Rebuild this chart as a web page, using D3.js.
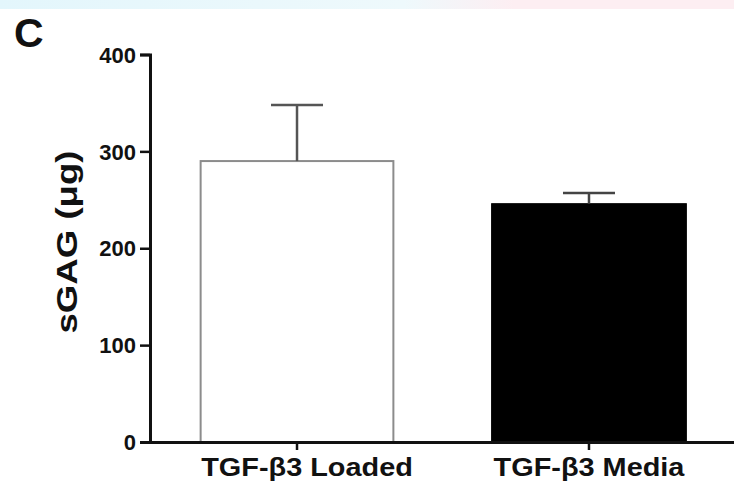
<!DOCTYPE html>
<html>
<head>
<meta charset="utf-8">
<script src="https://cdn.jsdelivr.net/npm/d3@7"></script>
<style>
  html, body { margin: 0; padding: 0; background: #fff; }
  svg { display: block; font-family: "Liberation Sans", Arial, Helvetica, sans-serif; }
</style>
</head>
<body>
<script>
// ---- data ----
const categories = ["TGF-\u03b23 Loaded", "TGF-\u03b23 Media"];
const means = [290, 246];
const errors = [58, 11];
const yTicks = [0, 100, 200, 300, 400];
const yLabel = "sGAG (\u03bcg)";
const panelLabel = "C";

const W = 734, H = 493;
const svg = d3.select("body").append("svg").attr("width", W).attr("height", H);

// faint coloured band at the top (scan artefact)
const defs = svg.append("defs");
const grad = defs.append("linearGradient").attr("id", "topband");
grad.append("stop").attr("offset", "0%").attr("stop-color", "#e3f6fc");
grad.append("stop").attr("offset", "55%").attr("stop-color", "#eef9fc");
grad.append("stop").attr("offset", "70%").attr("stop-color", "#fdeef2");
grad.append("stop").attr("offset", "100%").attr("stop-color", "#fdeef2");
svg.append("rect").attr("x", 0).attr("y", 0).attr("width", W).attr("height", 9).attr("fill", "url(#topband)");

const x0 = 150, yBase = 442;
const x = d3.scaleBand().domain(categories).range([x0, 736]).paddingInner(0.333).paddingOuter(0.17);
const y = d3.scaleLinear().domain([0, 400]).range([yBase, 54.5]);

// bars
const bars = svg.append("g");
categories.forEach((c, i) => {
  const filled = i === 1;
  bars.append("rect")
    .attr("x", x(c) + (filled ? 0 : 1))
    .attr("y", y(means[i]))
    .attr("width", x.bandwidth() - (filled ? 0 : 2))
    .attr("height", yBase - y(means[i]))
    .attr("fill", filled ? "#000" : "#fff")
    .attr("stroke", filled ? "#000" : "#8c8c8c")
    .attr("stroke-width", filled ? 1 : 2);
  // error bar (upper only)
  const cx = x(c) + x.bandwidth() / 2;
  const col = filled ? "#444" : "#555";
  bars.append("line")
    .attr("x1", cx).attr("x2", cx)
    .attr("y1", y(means[i])).attr("y2", y(means[i] + errors[i]))
    .attr("stroke", col).attr("stroke-width", 2.5);
  bars.append("line")
    .attr("x1", cx - 26).attr("x2", cx + 26)
    .attr("y1", y(means[i] + errors[i])).attr("y2", y(means[i] + errors[i]))
    .attr("stroke", col).attr("stroke-width", 2.5);
});

// y axis
const yAxis = svg.append("g").attr("transform", `translate(${x0},0)`)
  .call(d3.axisLeft(y).tickValues(yTicks).tickSize(10).tickPadding(4));
yAxis.select(".domain").attr("stroke", "#111").attr("stroke-width", 3);
yAxis.selectAll(".tick line").attr("stroke", "#111").attr("stroke-width", 2.5);
yAxis.selectAll(".tick text")
  .attr("fill", "#111")
  .style("font-size", "22px").style("font-weight", "bold")
  .attr("dy", "0.35em");

// x axis
const xAxis = svg.append("g").attr("transform", `translate(0,${yBase})`)
  .call(d3.axisBottom(x).tickSize(8).tickPadding(8));
xAxis.select(".domain").attr("d", `M${x0 - 8},0.5H${W}`).attr("stroke", "#111").attr("stroke-width", 3);
xAxis.selectAll(".tick line").attr("stroke", "#111").attr("stroke-width", 2.5);
xAxis.selectAll(".tick text")
  .attr("fill", "#111")
  .style("font-size", "26px").style("font-weight", "bold")
  .each(function(d, i) {
    const t = d3.select(this);
    const len = this.getComputedTextLength();
    t.attr("textLength", len * 1.11).attr("lengthAdjust", "spacingAndGlyphs");
    if (i === 0) t.attr("dx", 10);
  });

// y label
const yl = svg.append("text")
  .attr("transform", "translate(77,242) rotate(-90)")
  .attr("text-anchor", "middle")
  .attr("fill", "#111")
  .style("font-size", "30px").style("font-weight", "bold")
  .text(yLabel);
yl.attr("textLength", yl.node().getComputedTextLength() * 1.22).attr("lengthAdjust", "spacingAndGlyphs");

// panel label
svg.append("text")
  .attr("x", 14).attr("y", 47)
  .attr("fill", "#111")
  .style("font-size", "41px").style("font-weight", "bold")
  .text(panelLabel);
</script>
</body>
</html>
